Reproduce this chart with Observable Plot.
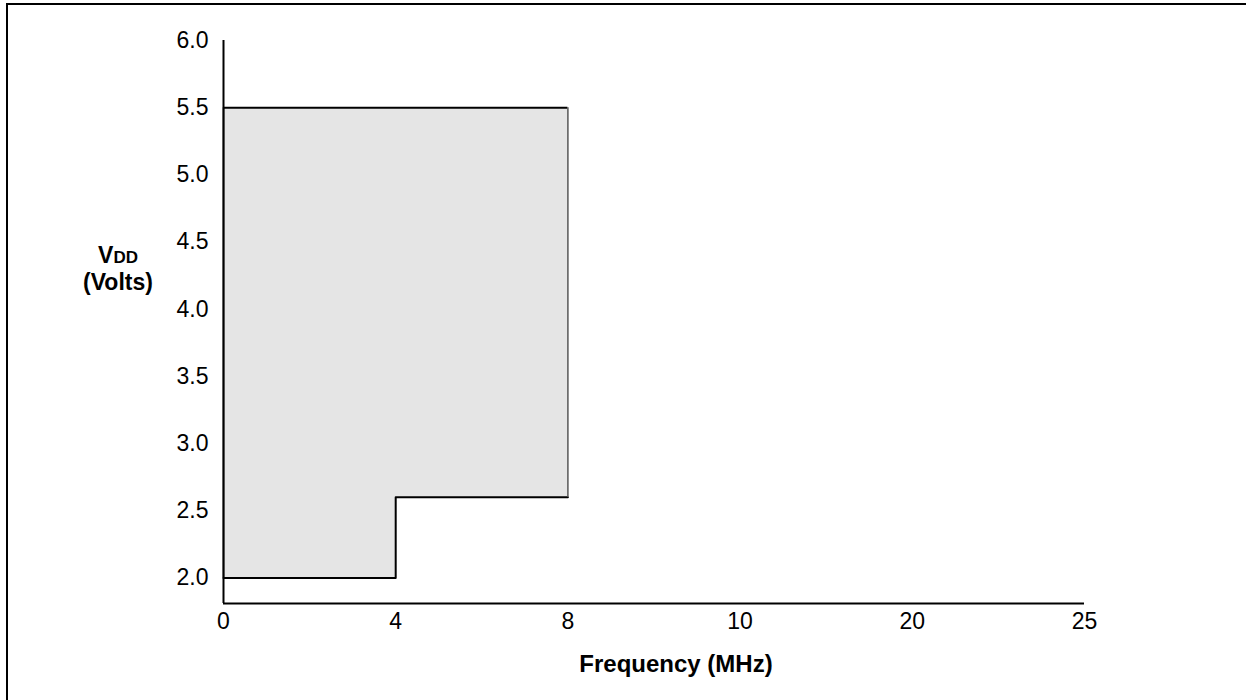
<!DOCTYPE html>
<html>
<head>
<meta charset="utf-8">
<script src="https://cdn.jsdelivr.net/npm/d3@7"></script>
<script src="https://cdn.jsdelivr.net/npm/@observablehq/plot@0.6"></script>
<style>
  html, body { margin: 0; padding: 0; background: #fff; overflow: hidden; }
  body { width: 1246px; height: 700px; position: relative; font-family: "Liberation Sans", Arial, sans-serif; }
  #frame { position: absolute; left: 6px; top: 3px; width: 1400px; height: 900px; border-top: 2px solid #000; border-left: 2px solid #000; }
  #chart { position: absolute; left: 0; top: 0; width: 1246px; }
  .ttl { position: absolute; font-weight: bold; color: #000; white-space: nowrap; }
</style>
</head>
<body>
<div id="frame"></div>
<div id="chart"></div>
<div class="ttl" id="ytitle" style="left:58px; top:243px; width:120px; text-align:center; font-size:23px; line-height:24px;">V<span style="font-size:17px;">DD</span><br>(Volts)</div>
<div class="ttl" id="xtitle" style="left:476px; top:650px; width:400px; text-align:center; font-size:24px;">Frequency (MHz)</div>
<script>
// Frequency ticks (MHz) shown on the axis (non-uniform axis, ticks evenly spaced)
const freqTicks = [0, 4, 8, 10, 20, 25];
// Voltage ticks (V)
const voltTicks = [2.0, 2.5, 3.0, 3.5, 4.0, 4.5, 5.0, 5.5, 6.0];
// Operating region boundary
const regionFreq = [0, 4, 8];
const regionVmin = [2.0, 2.6, 2.6];
const regionVmax = 5.5;
const yBottom = 1.81;
const yTop = 6.0;

// piecewise mapping from frequency to evenly spaced axis position
const fpos = d3.scaleLinear().domain(freqTicks).range(d3.range(freqTicks.length));
const tickIdx = d3.range(freqTicks.length);

const region = regionFreq.map((f, i) => ({f: fpos(f), lo: regionVmin[i], hi: regionVmax}));
const fLeft = fpos(regionFreq[0]);
const fRight = fpos(regionFreq[regionFreq.length - 1]);

const chart = Plot.plot({
  width: 1246,
  height: 700,
  marginLeft: 223,
  marginRight: 162,
  marginTop: 40,
  marginBottom: 97,
  style: {fontFamily: "Liberation Sans, Arial, sans-serif", color: "#000", background: "transparent"},
  x: {domain: [0, freqTicks.length - 1]},
  y: {domain: [yBottom, yTop]},
  marks: [
    Plot.areaY(region, {x: "f", y1: "lo", y2: "hi", curve: "step-after", fill: "#e5e5e5"}),
    Plot.line(region, {x: "f", y: "lo", curve: "step-after", stroke: "#000", strokeWidth: 2}),
    Plot.ruleY([regionVmax], {x1: fLeft, x2: fRight, stroke: "#000", strokeWidth: 2}),
    Plot.ruleX([fRight], {y1: regionVmin[regionVmin.length - 1], y2: regionVmax, stroke: "#555", strokeWidth: 1.5}),
    Plot.ruleX([fLeft], {y1: regionVmin[0], y2: regionVmax, stroke: "#000", strokeWidth: 1.5}),
    Plot.ruleX([0], {y1: yBottom, y2: yTop, stroke: "#000", strokeWidth: 2}),
    Plot.ruleY([yBottom], {x1: 0, x2: freqTicks.length - 1, stroke: "#000", strokeWidth: 2}),
    Plot.axisX({ticks: tickIdx, tickSize: 0, tickPadding: 9, fontSize: 23, label: null, tickFormat: i => String(freqTicks[i])}),
    Plot.axisY({ticks: voltTicks, tickSize: 0, tickPadding: 15, fontSize: 23, label: null, tickFormat: d3.format(".1f")})
  ]
});
document.getElementById("chart").appendChild(chart);
</script>
</body>
</html>
